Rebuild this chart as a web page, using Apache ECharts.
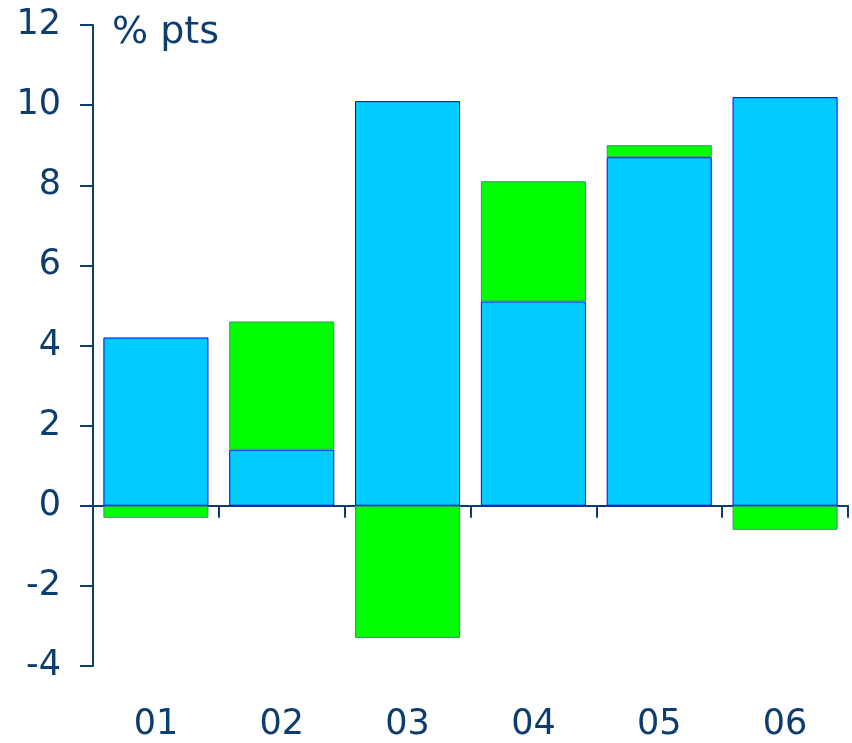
<!DOCTYPE html>
<html>
<head>
<meta charset="utf-8">
<script src="https://cdn.jsdelivr.net/npm/echarts@6/dist/echarts.min.js"></script>
<style>
  html, body { margin: 0; padding: 0; background: #fff; }
  #main { width: 852px; height: 743px; }
</style>
</head>
<body>
<div id="main"></div>
<script>
const categories = ['01', '02', '03', '04', '05', '06']
// two stacked components, % pts
const blueValues = [4.2, 1.4, 10.1, 5.1, 8.7, 10.2]
const greenValues = [-0.3, 3.2, -3.3, 3.0, 0.3, -0.6]
const yTicks = { min: -4, max: 12, interval: 2 }

const navy = '#0d3c6e'
const chart = echarts.init(document.getElementById('main'))

const option = {
  animation: false,
  grid: { left: 93, right: 4, top: 25, bottom: 77 },
  graphic: [
    {
      type: 'text',
      left: 112,
      top: 14,
      style: { text: '% pts', fontFamily: 'DejaVu Sans', fontSize: 38, fill: navy }
    }
  ],
  xAxis: [
    {
      type: 'category',
      data: categories,
      axisLine: { onZero: true, lineStyle: { color: navy, width: 2 } },
      axisTick: { show: true, inside: false, length: 12, lineStyle: { color: navy, width: 2 } },
      axisLabel: { show: false },
      splitLine: { show: false }
    },
    {
      type: 'category',
      position: 'bottom',
      data: categories,
      axisLine: { show: false },
      axisTick: { show: false },
      axisLabel: { margin: 41, color: navy, fontFamily: 'DejaVu Sans', fontSize: 35 },
      splitLine: { show: false }
    }
  ],
  yAxis: {
    type: 'value',
    min: yTicks.min,
    max: yTicks.max,
    interval: yTicks.interval,
    axisLine: { show: true, lineStyle: { color: navy, width: 2 } },
    axisTick: { show: true, length: 13, lineStyle: { color: navy, width: 2 } },
    axisLabel: { margin: 32, color: navy, fontFamily: 'DejaVu Sans', fontSize: 35 },
    splitLine: { show: false }
  },
  series: [
    {
      type: 'bar',
      stack: 'total',
      xAxisIndex: 0,
      data: blueValues,
      barWidth: '83.5%',
      itemStyle: { color: '#00ccff', borderColor: '#0000ff', borderWidth: 1 }
    },
    {
      type: 'bar',
      stack: 'total',
      xAxisIndex: 0,
      data: greenValues,
      barWidth: '83.5%',
      itemStyle: { color: '#00ff00', borderColor: '#339966', borderWidth: 1 }
    }
  ]
}

chart.setOption(option)
</script>
</body>
</html>
